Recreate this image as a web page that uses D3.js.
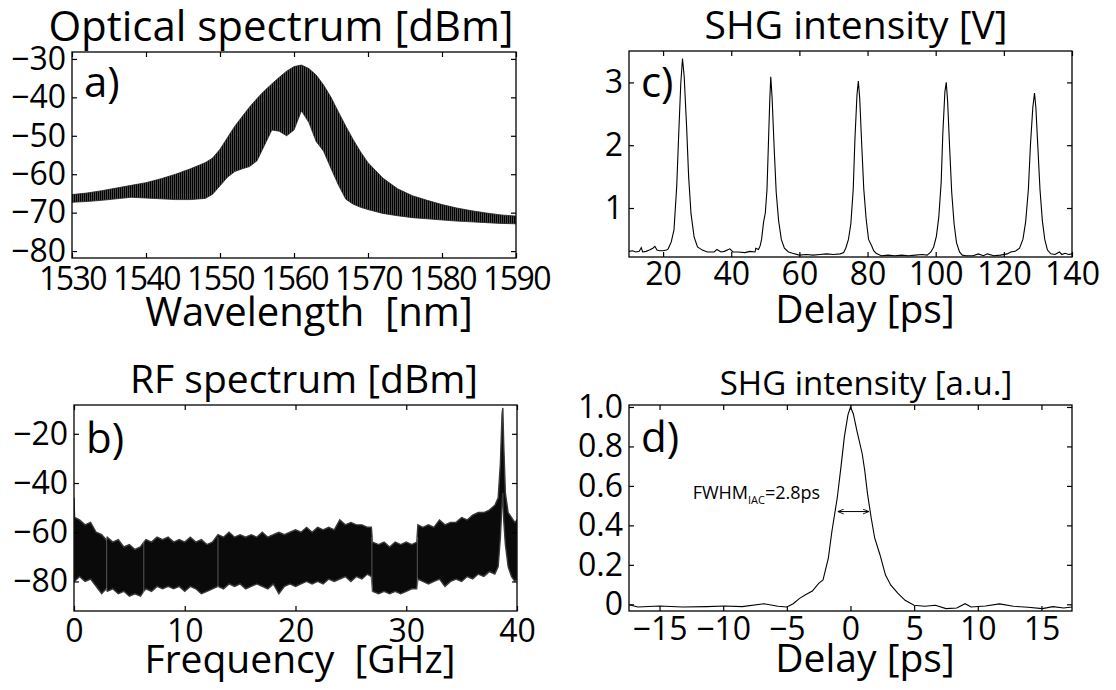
<!DOCTYPE html>
<html>
<head>
<meta charset="utf-8">
<title>Comb laser characterisation</title>
<script src="https://cdn.jsdelivr.net/npm/d3@7"></script>
<style>
body { margin: 0; background: #fff; }
svg { display: block; font-family: "Open Sans", sans-serif; }
</style>
</head>
<body>
<script>
// a) optical spectrum: upper / lower envelope of the comb lines [dBm]
var optWl = [1530,1532,1534,1536,1538,1540,1542,1544,1546,1548,1549,1550,1551,1552,1553,1554,1555,1556,1557,1558,1559,1560,1561,1562,1563,1564,1565,1566,1567,1568,1569,1570,1572,1574,1576,1578,1580,1582,1584,1586,1588,1590];
var optHi = [-65.3,-64.9,-64.3,-63.6,-62.9,-62.2,-61.2,-60.0,-58.6,-57.0,-55.8,-53.5,-50.5,-47.5,-45.0,-42.5,-40.3,-38.3,-36.5,-34.8,-33.2,-32.0,-31.6,-32.5,-34.2,-36.8,-40.0,-43.8,-47.5,-51.0,-54.2,-57.0,-61.0,-63.8,-65.6,-66.8,-67.9,-68.8,-69.5,-70.1,-70.6,-70.9];
var optLo = [-67.3,-67.1,-66.8,-66.4,-66.0,-66.2,-66.4,-66.6,-66.6,-66.3,-65.2,-63.0,-60.8,-59.3,-58.6,-58.0,-56.5,-52.5,-48.5,-48.8,-50.0,-48.5,-43.5,-46.5,-51.5,-54.0,-58.5,-62.8,-66.5,-67.8,-68.6,-69.2,-70.2,-70.8,-71.3,-71.6,-71.9,-72.2,-72.4,-72.6,-72.8,-72.9];

// b) RF spectrum: upper / lower envelope of the noise band [dBm]
var rfFreq = [0,0.05,0.5,1,1.5,2,2.5,2.9,3,3.5,4,4.5,5,5.5,6,6.3,6.5,7,7.5,8,8.5,9,9.5,10,10.5,11,11.5,12,12.5,13,13.5,14,14.5,15,15.5,16,16.5,17,17.5,18,18.5,19,19.5,20,20.5,21,21.5,22,22.5,23,23.5,24,24.5,25,25.5,26,26.5,26.85,26.95,27.5,28,28.5,29,29.5,30,30.5,30.95,31.05,31.5,32,32.5,33,33.5,34,34.5,35,35.5,36,36.5,37,37.5,38,38.3,38.5,38.65,38.72,38.8,38.95,39.2,39.5,39.8,40];
var rfHi = [-46,-54,-55,-57,-56,-60,-61,-63,-62,-64,-63,-66,-65,-67,-66,-64,-63,-64,-62,-63,-62,-64,-63,-64,-62,-64,-63,-65,-64,-61,-62,-60,-62,-61,-62,-61,-62,-60,-62,-61,-60,-61,-60,-59,-60,-58,-60,-58,-59,-58,-59,-55,-57,-56,-57,-57,-58,-58,-64,-65,-64,-66,-64,-65,-64,-65,-64,-57,-58,-57,-58,-55,-57,-56,-56,-54,-55,-53,-52,-52,-51,-49,-46,-32,-12,-9.5,-24,-44,-52,-54,-56,-55];
var rfLo = [-79,-80,-78,-80,-79,-82,-85,-83,-84,-83,-85,-84,-86,-85,-86,-84,-83,-84,-82,-83,-82,-83,-82,-84,-82,-83,-85,-84,-83,-82,-83,-81,-82,-81,-83,-82,-81,-82,-83,-81,-85,-82,-81,-82,-81,-80,-81,-80,-81,-79,-80,-79,-78,-80,-78,-79,-77,-78,-84,-85,-84,-85,-84,-85,-84,-83,-83,-79,-80,-81,-80,-79,-82,-80,-79,-80,-78,-79,-77,-78,-76,-77,-74,-62,-48,-44,-55,-65,-74,-78,-80,-79];
var rfJoins = [2.95, 6.3, 13.0, 26.9, 31.0];

// c) SHG intensity vs delay [V]
var shgDelay = [10,11,12,13,13.6,14,15,16,17,17.6,18.2,19,20,21,
  21.5,22.4,23.2,24.0,24.6,25.2,25.7,26.2,26.9,27.5,28.2,29.1,30.1,31.5,
  33,35,35.8,37,38,39.6,40.5,42,44,45.5,47,47.2,48,48.5,
  48.9,49.5,50.0,50.5,50.9,51.3,51.6,52.0,52.6,53.2,53.9,54.7,55.6,56.8,
  58,60,62,64,66,68,70,72,73.0,
  73.6,74.4,75.1,75.8,76.3,76.9,77.3,77.7,78.3,78.9,79.6,80.3,81.2,81.8,82.5,
  84,86,88,90,92,94,96,97.5,98.6,
  99.4,100.2,100.9,101.6,102.1,102.7,103.1,103.5,104.1,104.7,105.4,106.1,107.0,107.8,
  109,111,112.5,114,115.2,117,119,121,122,123.3,
  124.6,125.6,126.4,127.2,127.8,128.5,129.0,129.4,130.0,130.6,131.3,132.0,132.8,133.8,
  135,136.3,137,138,139,140];
var shgVolt = [0.31,0.32,0.30,0.31,0.37,0.30,0.31,0.33,0.36,0.39,0.33,0.32,0.32,0.33,
  0.35,0.46,0.65,1.34,2.19,2.99,3.38,3.09,2.30,1.50,0.91,0.54,0.38,0.33,
  0.30,0.30,0.34,0.30,0.31,0.35,0.30,0.30,0.29,0.31,0.30,0.36,0.34,0.40,
  0.50,0.78,0.92,1.30,2.00,2.70,3.09,2.75,1.95,1.25,0.80,0.50,0.36,0.30,
  0.28,0.25,0.26,0.25,0.26,0.27,0.26,0.27,0.29,
  0.36,0.50,0.75,1.30,2.10,2.80,3.02,2.75,2.00,1.30,0.82,0.50,0.40,0.32,0.28,
  0.24,0.25,0.24,0.25,0.24,0.25,0.26,0.25,0.30,
  0.38,0.55,0.85,1.40,2.20,2.85,3.00,2.70,1.95,1.25,0.75,0.45,0.30,0.25,
  0.24,0.24,0.27,0.24,0.27,0.24,0.25,0.27,0.30,0.31,
  0.36,0.50,0.78,1.30,2.00,2.60,2.83,2.60,1.95,1.30,0.80,0.50,0.33,0.27,
  0.26,0.30,0.26,0.28,0.26,0.27];

// d) normalised autocorrelation trace
var iacDelay = [-17.4,-16.7,-15.0,-13.2,-11.3,-9.9,-8.5,-6.8,-5.7,-5.0,-4.5,-4.0,-3.5,-3.0,-2.5,-2.16,-1.74,-1.46,-1.04,-0.76,-0.48,-0.2,0,
  0.22,0.5,0.92,1.12,1.34,1.62,1.9,2.32,2.75,3.17,3.73,4.29,4.99,5.83,6.67,7.5,8.35,9.0,9.47,10.6,11.7,12.8,13.95,15.07,15.9,16.75,17.4];
var iacVal = [-0.002,-0.014,-0.009,-0.014,-0.012,-0.009,-0.012,0.003,-0.010,-0.014,0.003,0.030,0.050,0.067,0.106,0.123,0.234,0.370,0.540,0.690,0.850,0.960,1.0,
  0.966,0.880,0.763,0.677,0.558,0.440,0.336,0.250,0.148,0.097,0.055,0.020,-0.005,-0.010,-0.005,-0.022,-0.019,0.003,-0.014,-0.009,0.002,-0.010,-0.015,-0.022,-0.012,-0.019,-0.014];
var fwhmEnds = [-1.0, 1.45], fwhmLevel = 0.47;

var W = 1116, H = 690;
var svg = d3.select("body").append("svg").attr("width", W).attr("height", H);
var defs = svg.append("defs");

// comb texture for the optical spectrum
var pat = defs.append("pattern").attr("id", "comb")
  .attr("patternUnits", "userSpaceOnUse").attr("width", 2).attr("height", 8);
pat.append("rect").attr("width", 2).attr("height", 8).attr("fill", "#4a4a4a");
pat.append("rect").attr("width", 1).attr("height", 8).attr("fill", "#000");

defs.append("marker").attr("id", "arr").attr("viewBox", "0 0 10 10")
  .attr("refX", 10).attr("refY", 5).attr("markerWidth", 6).attr("markerHeight", 6)
  .attr("orient", "auto-start-reverse")
  .append("path").attr("d", "M0,1 L10,5 L0,9").attr("fill", "none").attr("stroke", "#000").attr("stroke-width", 1.5);

var nPanel = 0;
function panel(o) {
  var id = "clip" + (nPanel++);
  var x = d3.scaleLinear().domain(o.xd).range([o.x0, o.x1]);
  var y = d3.scaleLinear().domain(o.yd).range([o.y1, o.y0]);
  defs.append("clipPath").attr("id", id).append("rect")
    .attr("x", o.x0).attr("y", o.y0).attr("width", o.x1 - o.x0).attr("height", o.y1 - o.y0);
  var plot = svg.append("g").attr("clip-path", "url(#" + id + ")");
  var g = svg.append("g");

  function style(sel) {
    sel.select(".domain").remove();
    sel.selectAll(".tick line").attr("stroke", "#000").attr("stroke-width", 1.2);
    sel.attr("font-family", null).attr("font-size", o.tickFont || 32)
      .selectAll("text").attr("fill", "#000");
  }
  g.append("g").attr("transform", "translate(0," + o.y1 + ")")
    .call(d3.axisBottom(x).tickValues(o.xt).tickSize(-5).tickPadding(o.xpad).tickFormat(o.xf || d3.format("")))
    .call(style)
    .attr("letter-spacing", o.xSpacing || null);
  g.append("g").attr("transform", "translate(0," + o.y0 + ")")
    .call(d3.axisTop(x).tickValues(o.xt).tickSize(-5).tickFormat(""))
    .call(style);
  g.append("g").attr("transform", "translate(" + o.x0 + ",0)")
    .call(d3.axisLeft(y).tickValues(o.yt).tickSize(-5).tickPadding(6).tickFormat(o.yf || d3.format("")))
    .call(style);
  g.append("g").attr("transform", "translate(" + o.x1 + ",0)")
    .call(d3.axisRight(y).tickValues(o.yt).tickSize(-5).tickFormat(""))
    .call(style);
  g.append("rect").attr("x", o.x0).attr("y", o.y0)
    .attr("width", o.x1 - o.x0).attr("height", o.y1 - o.y0)
    .attr("fill", "none").attr("stroke", "#000").attr("stroke-width", 1.3);

  g.append("text").attr("x", o.tx).attr("y", o.ty).attr("text-anchor", "middle")
    .attr("font-size", o.titleFont || 39).text(o.title);
  g.append("text").attr("x", o.lx).attr("y", o.ly).attr("text-anchor", "middle")
    .attr("font-size", o.labelFont || 39).style("white-space", "pre").text(o.label);
  g.append("text").attr("x", o.x0 + 12).attr("y", o.y0 + o.letterY)
    .attr("font-size", 42).text(o.letter);
  return { plot: plot, g: g, x: x, y: y };
}

// a) optical spectrum
var pa = panel({ x0: 72, x1: 516, y0: 52, y1: 258, xd: [1530, 1590], yd: [-81.8, -28.2],
  xt: d3.range(1530, 1591, 10), yt: d3.range(-80, -29, 10), xpad: 9, xSpacing: -1.6,
  title: "Optical spectrum [dBm]", titleFont: 42, tx: 281, ty: 41,
  label: "Wavelength  [nm]", labelFont: 40, lx: 309, ly: 326, letter: "a)", letterY: 45 });
var optData = optWl.map(function(w, i) { return { x: w, hi: optHi[i], lo: optLo[i] }; });
pa.plot.append("path").datum(optData)
  .attr("d", d3.area().x(function(d) { return pa.x(d.x); })
    .y0(function(d) { return pa.y(d.lo); }).y1(function(d) { return pa.y(d.hi); }))
  .attr("fill", "url(#comb)").attr("stroke", "#222").attr("stroke-width", 0.8);

// b) RF spectrum
var pb = panel({ x0: 74, x1: 517, y0: 405, y1: 611, xd: [0, 40], yd: [-92, -8.3],
  xt: [0, 10, 20, 30, 40], yt: [-80, -60, -40, -20], xpad: 8,
  title: "RF spectrum [dBm]", tx: 304, ty: 393,
  label: "Frequency  [GHz]", lx: 300, ly: 673, letter: "b)", letterY: 48 });
var rfData = rfFreq.map(function(f, i) { return { x: f, hi: rfHi[i], lo: rfLo[i] }; });
pb.plot.append("path").datum(rfData)
  .attr("d", d3.area().x(function(d) { return pb.x(d.x); })
    .y0(function(d) { return pb.y(d.lo); }).y1(function(d) { return pb.y(d.hi); }))
  .attr("fill", "#0a0a0a").attr("stroke", "#3a3a3a").attr("stroke-width", 1.4);
pb.plot.selectAll("line.join").data(rfJoins).enter().append("line")
  .attr("x1", function(d) { return pb.x(d); }).attr("x2", function(d) { return pb.x(d); })
  .attr("y1", pb.y(-86)).attr("y2", pb.y(-62))
  .attr("stroke", "#fff").attr("stroke-width", 0.7).attr("stroke-opacity", 0.45);

// c) SHG intensity in V
var pc = panel({ x0: 629, x1: 1072, y0: 51, y1: 257, xd: [10, 140], yd: [0.22, 3.5],
  xt: d3.range(20, 141, 20), yt: [1, 2, 3], xpad: 5,
  title: "SHG intensity [V]", tx: 856, ty: 39,
  label: "Delay [ps]", lx: 865, ly: 323, letter: "c)", letterY: 46 });
pc.plot.append("path").datum(shgDelay.map(function(t, i) { return [t, shgVolt[i]]; }))
  .attr("d", d3.line().x(function(d) { return pc.x(d[0]); }).y(function(d) { return pc.y(d[1]); }))
  .attr("fill", "none").attr("stroke", "#000").attr("stroke-width", 1.1);

// d) normalised SHG autocorrelation
var pd = panel({ x0: 629, x1: 1072, y0: 405, y1: 611, xd: [-17.4, 17.4], yd: [-0.034, 1.01],
  xt: d3.range(-15, 16, 5), yt: [0, 0.2, 0.4, 0.6, 0.8, 1.0], xpad: 6,
  yf: function(d) { return d === 0 ? "0" : d3.format(".1f")(d); },
  title: "SHG intensity [a.u.]", titleFont: 33, tx: 866, ty: 395,
  label: "Delay [ps]", lx: 865, ly: 672, letter: "d)", letterY: 47 });
pd.plot.append("path").datum(iacDelay.map(function(t, i) { return [t, iacVal[i]]; }))
  .attr("d", d3.line().x(function(d) { return pd.x(d[0]); }).y(function(d) { return pd.y(d[1]); }))
  .attr("fill", "none").attr("stroke", "#000").attr("stroke-width", 1.1);
pd.g.append("line")
  .attr("x1", pd.x(fwhmEnds[0])).attr("x2", pd.x(fwhmEnds[1]))
  .attr("y1", pd.y(fwhmLevel)).attr("y2", pd.y(fwhmLevel))
  .attr("stroke", "#000").attr("stroke-width", 1)
  .attr("marker-start", "url(#arr)").attr("marker-end", "url(#arr)");
var ann = pd.g.append("text").attr("x", pd.x(-12.4)).attr("y", pd.y(0.535)).attr("font-size", 18);
ann.append("tspan").text("FWHM");
ann.append("tspan").attr("dy", 5).attr("font-size", 11).text("IAC");
ann.append("tspan").attr("dy", -5).text("=2.8ps");
</script>
</body>
</html>
